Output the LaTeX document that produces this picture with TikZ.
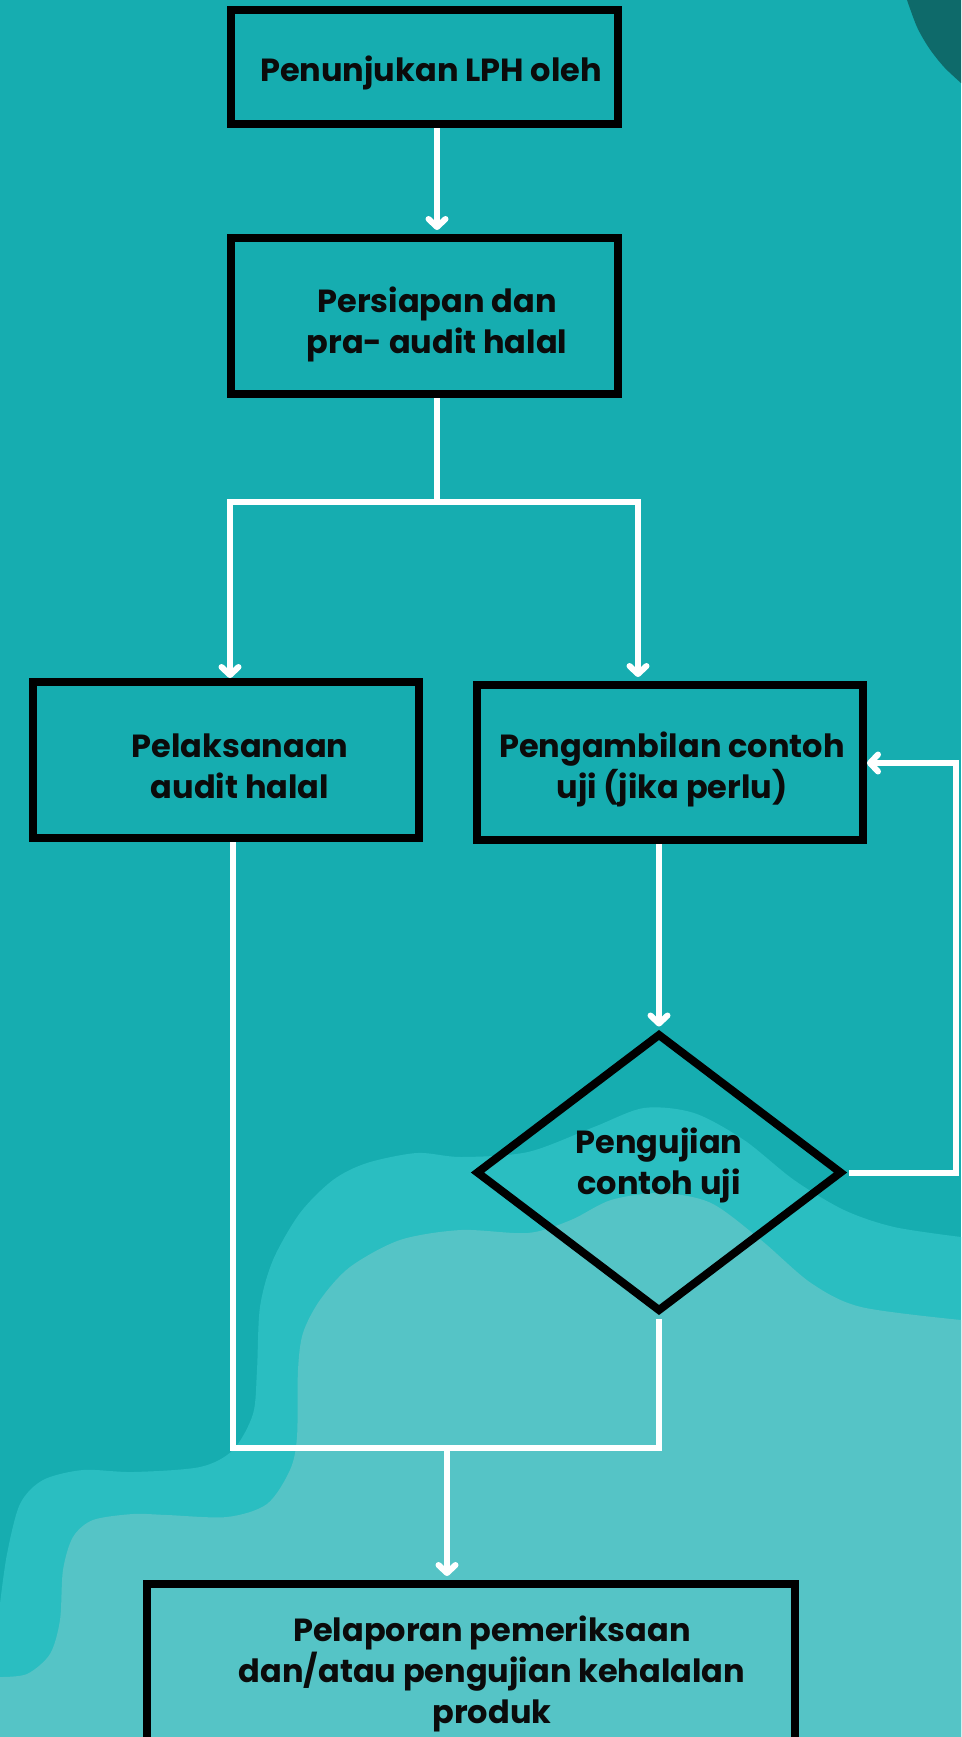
\documentclass[tikz,border=0pt]{standalone}
\usepackage{fontspec}
\setmainfont{Poppins}
\usetikzlibrary{shapes.geometric,arrows.meta}

\definecolor{seabase}{HTML}{16ADB0}
\definecolor{seamid}{HTML}{2ABEC1}
\definecolor{sealight}{HTML}{55C4C6}
\definecolor{seadark}{HTML}{0E6A6A}
\definecolor{inkblack}{HTML}{0B0B0B}

\begin{document}
\begin{tikzpicture}[x=1pt, y=-1pt,
  stepbox/.style={draw=black, line width=8pt, inner sep=0pt},
  decision/.style={diamond, draw=black, line width=8pt, inner sep=0pt, outer sep=6pt},
  steptext/.style={font=\bfseries\fontsize{32}{41}\selectfont, text=inkblack,
    align=center, inner sep=0pt, text depth=0pt, anchor=south},
  flow/.style={draw=white, line width=6pt},
  flowarrow/.style={flow, -{Straight Barb[length=8pt, width=17pt, round]}, shorten >=4pt}]
\clip (0,0) rectangle (961,1737);

% Background
\fill[seabase] (0,0) rectangle (961,1737);
\fill[seadark] plot[smooth] coordinates {(907,0) (917,27) (929,48) (944,67) (961,83)}
  -- (961,0) -- cycle;
\fill[seamid] plot[smooth] coordinates {(961,1237) (894,1227) (844,1210) (794,1180)
  (744,1140) (694,1113) (644,1108) (594,1127) (528,1152) (461,1157) (417,1153)
  (367,1163) (333,1180) (300,1213) (273,1260) (260,1307) (257,1370) (253,1414)
  (233,1450) (200,1467) (133,1472) (83,1470) (43,1480) (20,1504) (7,1554) (0,1604)}
  -- (0,1737) -- (961,1737) -- cycle;
\fill[sealight] plot[smooth] coordinates {(961,1320) (861,1307) (811,1283) (761,1240)
  (711,1203) (661,1193) (611,1200) (571,1220) (528,1233) (461,1230) (400,1240)
  (350,1267) (320,1300) (303,1333) (298,1370) (297,1437) (290,1470) (267,1504)
  (227,1517) (167,1515) (133,1514) (93,1520) (73,1537) (63,1570) (60,1620)
  (50,1654) (27,1674) (0,1677)}
  -- (0,1737) -- (961,1737) -- cycle;

% Boxes
\node[stepbox, minimum width=387pt, minimum height=114pt] (penunjukan) at (424.5,67) {};
\node[stepbox, minimum width=387pt, minimum height=156pt] (persiapan) at (424.5,316) {};
\node[stepbox, minimum width=386pt, minimum height=156pt] (pelaksanaan) at (226,760) {};
\node[stepbox, minimum width=386pt, minimum height=155pt] (pengambilan) at (670,762.5) {};
\node[decision, minimum width=368pt, minimum height=280pt] (pengujian) at (659,1172.5) {};
\node[stepbox, minimum width=648pt, minimum height=200pt] (pelaporan) at (471,1684) {};

% Texts
\node[steptext] (penunjukan-t) at (431,82) {Penunjukan LPH oleh};
\node[steptext] (persiapan-t) at (437,354) {Persiapan dan\\pra- audit halal};
\node[steptext] (pelaksanaan-t) at (240,799) {Pelaksanaan\\audit halal};
\node[steptext] (pengambilan-t) at (672,799) {Pengambilan contoh\\uji (jika perlu)};
\node[steptext] (pengujian-t) at (659,1195) {Pengujian\\contoh uji};
\node[steptext] (pelaporan-t) at (492,1724) {Pelaporan pemeriksaan\\dan/atau pengujian kehalalan\\produk};

% Connectors
\coordinate (trunk) at (437,502);
\coordinate (split l) at (230,502);
\coordinate (split r) at (638,502);
\coordinate (merge l) at (233,1448);
\coordinate (merge) at (447,1448);
\coordinate (loop) at (956,763);

\draw[flowarrow] (penunjukan.south -| trunk) -- (persiapan.north -| trunk);
\draw[flow] (persiapan.south -| trunk) -- (trunk);
\draw[flowarrow, shorten >=0pt] (trunk) -- (split l) -- (pelaksanaan.north -| split l);
\draw[flowarrow] (trunk) -- (split r) -- (pengambilan.north -| split r);
\draw[flowarrow, shorten >=0pt] (pengambilan.south -| pengujian.north) -- (pengujian.north);
\draw[flowarrow, shorten >=0pt] (pengujian.east) -| (loop) -- (pengambilan.east |- loop);
\draw[flow] (pelaksanaan.south -| merge l) -- (merge l) -| (pengujian.south);
\draw[flowarrow] (merge) -- (pelaporan.north -| merge);
\end{tikzpicture}
\end{document}
